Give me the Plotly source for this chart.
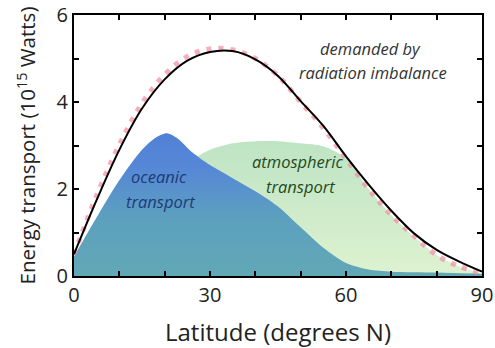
import plotly.graph_objects as go

# Latitude grid (degrees N)
lat = [0, 5, 10, 15, 20, 25, 30, 35, 40, 45, 50, 55, 60, 65, 70, 75, 80, 85, 90]

# Energy transport demanded by radiation imbalance (black solid), 10^15 W
demanded = [0.5, 1.75, 2.9, 3.85, 4.52, 4.95, 5.15, 5.17, 4.98, 4.6, 4.02, 3.45, 2.75, 2.1, 1.5, 0.98, 0.6, 0.33, 0.1]
# Observed total (pink dotted)
observed = [0.5, 1.85, 3.02, 3.97, 4.63, 5.05, 5.22, 5.2, 5.0, 4.6, 4.0, 3.4, 2.7, 2.0, 1.4, 0.92, 0.48, 0.22, 0.05]

# Oceanic transport
ocean_lat = [0, 5, 10, 15, 18, 20.5, 23, 26, 30, 35, 40, 45, 50, 55, 60, 65, 70, 80, 90]
ocean = [0.45, 1.35, 2.2, 2.9, 3.18, 3.28, 3.15, 2.85, 2.55, 2.25, 1.95, 1.6, 1.12, 0.65, 0.3, 0.15, 0.1, 0.08, 0.05]

# Atmospheric transport
atmos = [0.3, 0.8, 1.2, 1.6, 2.1, 2.6, 2.9, 3.05, 3.1, 3.1, 3.05, 2.98, 2.7, 2.0, 1.4, 0.9, 0.48, 0.22, 0.05]

fig = go.Figure()

fig.add_trace(go.Scatter(
    x=lat, y=atmos, mode="lines", line=dict(width=0, shape="spline", smoothing=0.8),
    fill="tozeroy",
    fillgradient=dict(type="vertical", start=0, stop=3.1,
                      colorscale=[[0, "rgb(222,242,208)"], [1, "rgb(190,228,196)"]]),
    hoverinfo="skip", showlegend=False))

fig.add_trace(go.Scatter(
    x=ocean_lat, y=ocean, mode="lines", line=dict(width=0, shape="spline", smoothing=0.8),
    fill="tozeroy",
    fillgradient=dict(type="vertical", start=0, stop=3.3,
                      colorscale=[[0, "rgb(98,168,182)"], [0.4, "rgb(92,160,190)"],
                                  [0.75, "rgb(86,136,214)"], [1, "rgb(80,128,214)"]]),
    hoverinfo="skip", showlegend=False))

fig.add_trace(go.Scatter(
    x=lat, y=observed, mode="lines",
    line=dict(color="rgba(242,140,160,0.7)", width=5, dash="5px,7px", shape="spline"),
    hoverinfo="skip", showlegend=False))

fig.add_trace(go.Scatter(
    x=lat, y=demanded, mode="lines",
    line=dict(color="black", width=2, shape="spline"),
    hoverinfo="skip", showlegend=False))

font_family = "Open Sans"

annos = [
    dict(x=65.3, y=5.24, text="<i>demanded by</i>", color="#333333"),
    dict(x=66.0, y=4.67, text="<i>radiation imbalance</i>", color="#333333"),
    dict(x=18.75, y=2.28, text="<i>oceanic</i>", color="#1c3a78"),
    dict(x=19.0, y=1.72, text="<i>transport</i>", color="#1c3a78"),
    dict(x=49.2, y=2.63, text="<i>atmospheric</i>", color="#1f4a22"),
    dict(x=49.9, y=2.06, text="<i>transport</i>", color="#1f4a22"),
]
for a in annos:
    fig.add_annotation(x=a["x"], y=a["y"], text=a["text"], showarrow=False,
                       font=dict(family=font_family, size=16.5, color=a["color"]))

fig.update_layout(
    width=495, height=348,
    margin=dict(l=74, r=13, t=15, b=72),
    plot_bgcolor="white", paper_bgcolor="white",
    font=dict(family=font_family, color="#222222"),
)
fig.update_xaxes(
    range=[0, 90], tickvals=[0, 30, 60, 90], ticks="inside", ticklen=5, tickwidth=1.5,
    tickcolor="black", showline=True, linecolor="black", linewidth=2, mirror="ticks",
    showgrid=False, zeroline=False, tickfont=dict(size=20), automargin=False,
    minor=dict(dtick=10, ticks="inside", ticklen=5, tickwidth=1.5, tickcolor="black", showgrid=False),
    title=dict(text="Latitude (degrees N)", font=dict(size=24), standoff=19),
)
fig.update_yaxes(
    range=[0, 6], tickvals=[0, 2, 4, 6], ticks="inside", ticklen=5, tickwidth=1.5,
    tickcolor="black", showline=True, linecolor="black", linewidth=2, mirror="ticks",
    showgrid=False, zeroline=False, tickfont=dict(size=20), automargin=False,
    minor=dict(dtick=1, ticks="inside", ticklen=5, tickwidth=1.5, tickcolor="black", showgrid=False),
    title=dict(text="Energy transport (10<sup>15</sup> Watts)", font=dict(size=20.5), standoff=15),
)

fig.write_html("out.html")
